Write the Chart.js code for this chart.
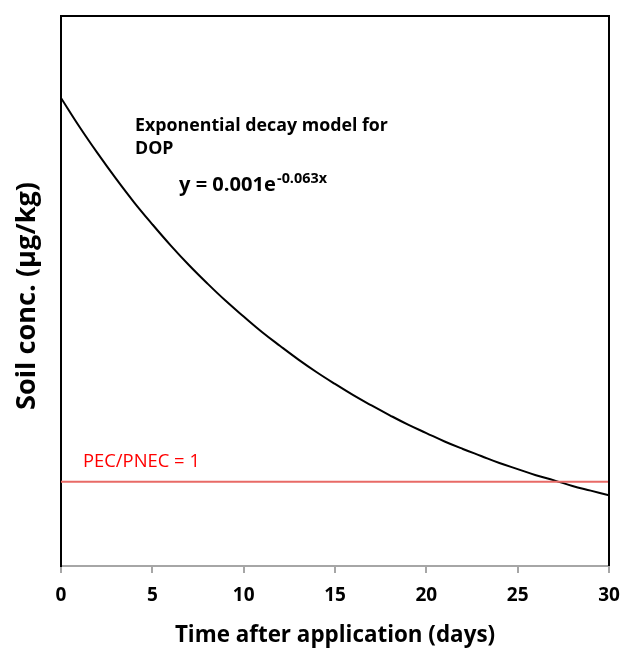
<!DOCTYPE html>
<html>
<head>
<meta charset="utf-8">
<script src="https://cdn.jsdelivr.net/npm/chart.js@4"></script>
<style>
  html, body { margin: 0; padding: 0; background: #fff; }
  #wrap { width: 622px; height: 651px; position: relative; }
</style>
</head>
<body>
<div id="wrap"><canvas id="grafico" width="622" height="651"></canvas></div>
<script>
// --- Dados ---
const dias = [0, 1, 2, 3, 4, 5, 6, 7, 8, 9, 10, 11, 12, 13, 14, 15, 16, 17, 18, 19, 20, 21, 22, 23, 24, 25, 26, 27, 28, 29, 30];
const concSolo = [0.001000, 0.000939, 0.000882, 0.000828, 0.000777, 0.000730, 0.000685, 0.000643, 0.000604, 0.000567,
  0.000533, 0.000500, 0.000470, 0.000441, 0.000414, 0.000389, 0.000365, 0.000343, 0.000322, 0.000302,
  0.000284, 0.000266, 0.000250, 0.000235, 0.000220, 0.000207, 0.000194, 0.000183, 0.000171, 0.000161, 0.000151];
const limiteX = [0, 30];
const limiteY = [0.00018, 0.00018];
const ticksX = [0, 5, 10, 15, 20, 25, 30];

const fonte = "'Open Sans', Lato, sans-serif";

// acha o tamanho de fonte que dá a largura pedida
function ajustarFonte(ctx, texto, peso, largura) {
  ctx.font = peso + ' 20px ' + fonte;
  const tam = 20 * largura / ctx.measureText(texto).width;
  ctx.font = peso + ' ' + tam.toFixed(1) + 'px ' + fonte;
  return tam;
}

// --- Textos e bordas desenhados por cima ---
const textosPlugin = {
  id: 'textos',
  afterDraw(chart) {
    const { ctx, chartArea: a, scales } = chart;
    ctx.save();
    // bordas superior e direita
    ctx.strokeStyle = '#000';
    ctx.lineWidth = 2;
    ctx.beginPath();
    ctx.moveTo(a.left, a.top);
    ctx.lineTo(a.right, a.top);
    ctx.lineTo(a.right, a.bottom);
    ctx.stroke();

    ctx.fillStyle = '#000';
    ctx.textBaseline = 'middle';
    ctx.textAlign = 'left';
    ajustarFonte(ctx, 'Exponential decay model for', 'bold', 253);
    ctx.fillText('Exponential decay model for', 135, 126);
    ctx.fillText('DOP', 135, 149);
    const eq = 'y = 0.001e';
    ajustarFonte(ctx, eq, 'bold', 97);
    ctx.fillText(eq, 179, 185);
    ajustarFonte(ctx, '-0.063x', 'bold', 50);
    ctx.fillText('-0.063x', 277, 179);

    // rótulo da linha limite
    ctx.fillStyle = '#ff0000';
    ajustarFonte(ctx, 'PEC/PNEC = 1', 'normal', 117);
    const yLim = scales.y.getPixelForValue(limiteY[0]);
    ctx.fillText('PEC/PNEC = 1', 83, yLim - 20);

    // títulos dos eixos
    ctx.fillStyle = '#000';
    ctx.textAlign = 'center';
    ajustarFonte(ctx, 'Time after application (days)', 'bold', 320);
    ctx.fillText('Time after application (days)', 335, 636);
    ajustarFonte(ctx, 'Soil conc. (µg/kg)', 'bold', 228);
    ctx.translate(27, 296);
    ctx.rotate(-Math.PI / 2);
    ctx.fillText('Soil conc. (µg/kg)', 0, 0);
    ctx.restore();
  }
};

const grafico = new Chart(document.getElementById('grafico'), {
  type: 'scatter',
  data: {
    datasets: [
      {
        data: limiteX.map((x, i) => ({ x: x, y: limiteY[i] })),
        showLine: true,
        borderColor: '#e86a66',
        borderWidth: 2,
        pointRadius: 0
      },
      {
        data: dias.map((d, i) => ({ x: d, y: concSolo[i] })),
        showLine: true,
        borderColor: '#000',
        borderWidth: 2,
        pointRadius: 0,
        tension: 0.4
      }
    ]
  },
  options: {
    responsive: false,
    animation: false,
    layout: { padding: { left: 61, right: 13, top: 16, bottom: 0 } },
    plugins: { legend: { display: false }, tooltip: { enabled: false } },
    scales: {
      x: {
        type: 'linear', min: 0, max: 30,
        afterFit(s) { s.height = 85; s.paddingLeft = 0; s.paddingRight = 0; },
        afterBuildTicks(s) { s.ticks = ticksX.map(v => ({ value: v })); },
        grid: { display: true, drawOnChartArea: false, color: '#a6a6a6', lineWidth: 2, tickLength: 7 },
        border: { display: true, color: '#a6a6a6', width: 2 },
        ticks: { color: '#000', padding: 11, maxRotation: 0, font: { family: fonte, size: 19, weight: 'bold' } }
      },
      y: {
        type: 'linear', min: 0, max: 0.001175,
        afterFit(s) { s.width = 0; s.paddingTop = 0; s.paddingBottom = 0; },
        grid: { display: false },
        border: { display: true, color: '#000', width: 2 },
        ticks: { display: false }
      }
    }
  },
  plugins: [textosPlugin]
});
</script>
</body>
</html>
